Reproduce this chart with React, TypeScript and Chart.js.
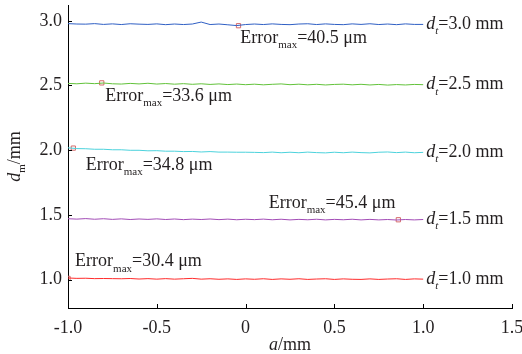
import React, { useEffect, useRef } from "react";
import { Chart, registerables } from "chart.js";

Chart.register(...registerables);

const xValues = [
  -1.0, -0.95, -0.9, -0.85, -0.8, -0.75, -0.7, -0.65, -0.6, -0.55, -0.5, -0.45, -0.4, -0.35, -0.3, -0.25, -0.2,
  -0.15, -0.1, -0.05, 0.0, 0.05, 0.1, 0.15, 0.2, 0.25, 0.3, 0.35, 0.4, 0.45, 0.5, 0.55, 0.6, 0.65, 0.7, 0.75,
  0.8, 0.85, 0.9, 0.95, 1.0,
];

const series30 = [
  2.978, 2.975, 2.974, 2.978, 2.972, 2.976, 2.971, 2.977, 2.974, 2.972, 2.976, 2.97, 2.975, 2.971, 2.975, 2.99,
  2.971, 2.975, 2.969, 2.963, 2.971, 2.975, 2.971, 2.976, 2.972, 2.97, 2.975, 2.977, 2.971, 2.976, 2.972, 2.97,
  2.976, 2.972, 2.977, 2.971, 2.975, 2.97, 2.976, 2.972, 2.972,
];
const series25 = [
  2.516, 2.513, 2.518, 2.514, 2.519, 2.513, 2.511, 2.516, 2.512, 2.517, 2.511, 2.515, 2.51, 2.514, 2.509, 2.513,
  2.508, 2.512, 2.507, 2.511, 2.506, 2.51, 2.505, 2.509, 2.512, 2.506, 2.51, 2.505, 2.509, 2.504, 2.508, 2.51,
  2.505, 2.509, 2.504, 2.508, 2.503, 2.507, 2.504, 2.508, 2.506,
];
const series20 = [
  2.018, 2.012, 2.011, 2.007, 2.007, 2.003, 2.003, 1.999, 1.999, 1.995, 1.996, 1.992, 1.992, 1.989, 1.99, 1.986,
  1.989, 1.985, 1.985, 1.984, 1.984, 1.983, 1.981, 1.985, 1.98, 1.984, 1.98, 1.985, 1.981, 1.979, 1.984, 1.98,
  1.985, 1.981, 1.979, 1.984, 1.986, 1.981, 1.985, 1.98, 1.983,
];
const series15 = [
  1.47, 1.467, 1.471, 1.466, 1.47, 1.465, 1.469, 1.464, 1.468, 1.465, 1.469, 1.464, 1.468, 1.463, 1.467, 1.464,
  1.468, 1.463, 1.467, 1.462, 1.466, 1.463, 1.467, 1.462, 1.466, 1.461, 1.465, 1.462, 1.466, 1.461, 1.465, 1.462,
  1.466, 1.461, 1.465, 1.461, 1.464, 1.46, 1.464, 1.461, 1.464,
];
const series10 = [
  1.012, 1.009, 1.01, 1.007, 1.008, 1.007, 1.006, 1.008, 1.004, 1.007, 1.003, 1.007, 1.003, 1.006, 1.009, 1.003,
  1.006, 1.002, 1.005, 1.001, 1.005, 1.002, 1.006, 1.001, 1.005, 1.002, 1.006, 1.001, 1.004, 1.006, 1.001, 1.005,
  1.002, 1.001, 1.005, 1.001, 1.004, 1.006, 1.001, 1.005, 1.003,
];

const seriesNames = ["3.0", "2.5", "2.0", "1.5", "1.0"];
const seriesData = [series30, series25, series20, series15, series10];
const seriesColors = ["#2f5fc4", "#62c23a", "#4cd2dc", "#a24cb6", "#ff2a2a"];

// Error max markers (data coordinates)
const markerX = [-0.04, -0.81, -0.97, 0.86, -1.0];
const markerY = [2.962, 2.52, 2.016, 1.462, 1.009];
const errorValues = ["40.5", "33.6", "34.8", "45.4", "30.4"];
// label anchors (data coordinates, left / vertical centre of text)
const errorLabelX = [-0.03, -0.79, -0.9, 0.13, -0.96];
const errorLabelY = [2.865, 2.415, 1.885, 1.588, 1.138];

const xTicks = [-1.0, -0.5, 0, 0.5, 1.0, 1.5];
const yTicks = [1.0, 1.5, 2.0, 2.5, 3.0];

const FONT = "'Liberation Serif', serif";
const TEXT = "#231f20";

const textPlugin = {
  id: "customText",
  afterDraw(chart: any) {
    const ctx = chart.ctx as CanvasRenderingContext2D;
    const xs = chart.scales.x;
    const ys = chart.scales.y;
    const area = chart.chartArea;
    ctx.save();
    // inward ticks
    ctx.strokeStyle = "#000";
    ctx.lineWidth = 1;
    ctx.beginPath();
    xTicks.forEach((v) => {
      const px = Math.round(xs.getPixelForValue(v)) + 0.5;
      ctx.moveTo(px, area.bottom);
      ctx.lineTo(px, area.bottom - 4);
    });
    yTicks.forEach((v) => {
      const py = Math.round(ys.getPixelForValue(v)) + 0.5;
      ctx.moveTo(area.left, py);
      ctx.lineTo(area.left + 4, py);
    });
    ctx.stroke();

    ctx.fillStyle = TEXT;
    ctx.textBaseline = "middle";
    ctx.textAlign = "left";
    // error labels
    errorValues.forEach((val, i) => {
      let x = xs.getPixelForValue(errorLabelX[i]);
      const y = ys.getPixelForValue(errorLabelY[i]);
      ctx.font = `18px ${FONT}`;
      ctx.fillText("Error", x, y);
      x += ctx.measureText("Error").width;
      ctx.font = `11px ${FONT}`;
      ctx.fillText("max", x, y + 7);
      x += ctx.measureText("max").width;
      ctx.font = `18px ${FONT}`;
      ctx.fillText(`=${val} \u03bcm`, x, y);
    });
    // right labels
    seriesNames.forEach((name, i) => {
      const d = seriesData[i];
      let x = xs.getPixelForValue(1.0) + 3;
      const y = ys.getPixelForValue(d[d.length - 1]);
      ctx.font = `italic 18px ${FONT}`;
      ctx.fillText("d", x, y);
      x += ctx.measureText("d").width;
      ctx.font = `italic 11px ${FONT}`;
      ctx.fillText("t", x, y + 7);
      x += ctx.measureText("t").width;
      ctx.font = `18px ${FONT}`;
      ctx.fillText(`=${name} mm`, x, y);
    });
    // x title
    {
      ctx.font = `italic 18px ${FONT}`;
      const w1 = ctx.measureText("a").width;
      ctx.font = `18px ${FONT}`;
      const w2 = ctx.measureText("/mm").width;
      const cx = (area.left + area.right) / 2;
      let x = cx - (w1 + w2) / 2;
      const y = 345;
      ctx.font = `italic 18px ${FONT}`;
      ctx.fillText("a", x, y);
      x += w1;
      ctx.font = `18px ${FONT}`;
      ctx.fillText("/mm", x, y);
    }
    // y title
    {
      ctx.translate(15, (area.top + area.bottom) / 2);
      ctx.rotate(-Math.PI / 2);
      ctx.font = `italic 18px ${FONT}`;
      const w1 = ctx.measureText("d").width;
      ctx.font = `11px ${FONT}`;
      const w2 = ctx.measureText("m").width;
      ctx.font = `18px ${FONT}`;
      const w3 = ctx.measureText("/mm").width;
      let x = -(w1 + w2 + w3) / 2;
      ctx.font = `italic 18px ${FONT}`;
      ctx.fillText("d", x, 0);
      x += w1;
      ctx.font = `11px ${FONT}`;
      ctx.fillText("m", x, 7);
      x += w2;
      ctx.font = `18px ${FONT}`;
      ctx.fillText("/mm", x, 0);
    }
    ctx.restore();
  },
};

export default function App() {
  const ref = useRef<HTMLCanvasElement | null>(null);
  useEffect(() => {
    if (!ref.current) return;
    const datasets: any[] = seriesData.map((d, i) => ({
      label: `dt=${seriesNames[i]}`,
      data: d.map((y, j) => ({ x: xValues[j], y })),
      borderColor: seriesColors[i],
      borderWidth: 1,
      pointRadius: 0,
      tension: 0,
      fill: false,
    }));
    datasets.push({
      label: "markers",
      data: markerX.map((x, i) => ({ x, y: markerY[i] })),
      showLine: false,
      pointStyle: "rect",
      pointRadius: 3,
      borderColor: "#d46a6a",
      backgroundColor: "rgba(0,0,0,0)",
      borderWidth: 1,
    });
    const chart = new Chart(ref.current, {
      type: "line",
      data: { datasets },
      options: {
        animation: false,
        responsive: false,
        layout: { padding: { left: 0, right: 10, top: 0, bottom: 0 } },
        plugins: { legend: { display: false }, tooltip: { enabled: false } },
        scales: {
          x: {
            type: "linear",
            min: -1.0,
            max: 1.5,
            afterBuildTicks: (s: any) => {
              s.ticks = xTicks.map((v) => ({ value: v }));
            },
            afterFit: (s: any) => {
              s.height = 46;
              s.paddingLeft = 0;
              s.paddingRight = 0;
            },
            grid: { display: false, drawTicks: false },
            border: { display: true, color: "#000", width: 1 },
            ticks: {
              padding: 9,
              color: TEXT,
              font: { family: FONT, size: 18 },
              maxRotation: 0,
              callback: (v: any) => (Number(v) === 0 ? "0" : Number(v).toFixed(1)),
            },
          },
          y: {
            type: "linear",
            min: 0.78,
            max: 3.122,
            afterBuildTicks: (s: any) => {
              s.ticks = yTicks.map((v) => ({ value: v }));
            },
            afterFit: (s: any) => {
              s.width = 68;
              s.paddingTop = 0;
              s.paddingBottom = 0;
            },
            grid: { display: false, drawTicks: false },
            border: { display: true, color: "#000", width: 1 },
            ticks: {
              padding: 6,
              color: TEXT,
              font: { family: FONT, size: 18 },
              callback: (v: any) => Number(v).toFixed(1),
            },
          },
        },
      },
      plugins: [textPlugin],
    });
    return () => chart.destroy();
  }, []);
  return (
    <div style={{ position: "fixed", left: 0, top: 0, width: 522, height: 354, background: "#fff" }}>
      <canvas ref={ref} width={522} height={354} style={{ display: "block" }} />
    </div>
  );
}
